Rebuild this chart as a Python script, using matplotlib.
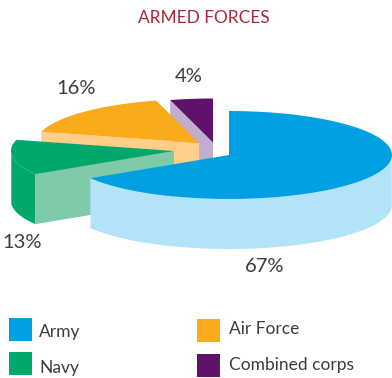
import numpy as np
import matplotlib
matplotlib.use("Agg")
import matplotlib.pyplot as plt
from matplotlib.patches import Polygon, Rectangle

categories = ["Army", "Navy", "Air Force", "Combined corps"]
shares = [67, 13, 16, 4]
share_labels = ["67%", "13%", "16%", "4%"]

top_colors = ["#00A0E3", "#00A86B", "#FBAA19", "#5F116B"]
face_colors = ["#B3E3F9", "#7FCBA9", "#FDCF88", "#C1AECF"]
rim_colors = ["#B3E3F9", "#00A86B", "#FDCF88", "#C1AECF"]
apexes = [(229, 155), (174, 151), (199, 143), (213, 142.5)]
label_pos = [(265, 267), (22, 243), (76, 88), (189, 77)]
legend_pos = [(9, 318), (9, 352), (197, 319), (197, 354)]
legend_text_pos = [(39, 332), (39, 368), (229, 329), (229, 365)]
RX, RY, DEPTH = 163, 44, 50
VIEW_WARP = 3.4
FONT = ["Lato", "DejaVu Sans"]
TEXT = "#3c3c3c"

fig = plt.figure(figsize=(3.92, 3.78), dpi=100)
ax = fig.add_axes([0, 0, 1, 1])
ax.set_xlim(0, 392)
ax.set_ylim(378, 0)
ax.axis("off")


def arc(apex, t0, t1, dy=0.0):
    t = np.radians(np.linspace(t0, t1, 80))
    t = t + np.radians(VIEW_WARP) * np.sin(t)
    return np.column_stack([apex[0] + RX * np.sin(t), apex[1] - RY * np.cos(t) + dy])


edges = np.concatenate([[0], np.cumsum(shares)]) * 3.6
# painter's order: far slices first
for i in [3, 2, 1, 0]:
    t0, t1 = edges[i], edges[i + 1]
    ap = np.array(apexes[i], float)
    top = arc(ap, t0, t1)
    z = 5 - i
    # outer rim: only the part of the curve that faces the viewer
    lo, hi = max(t0, 90), min(t1, 270)
    if hi > lo:
        rim = arc(ap, lo, hi)
        rim_poly = np.vstack([rim, (rim + [0, DEPTH])[::-1]])
        ax.add_patch(Polygon(rim_poly, closed=True, fc=rim_colors[i], ec="none", zorder=z))
    # visible radial face: the slice's clockwise-first edge
    p = top[0]
    face = np.array([ap, p, p + [0, DEPTH], ap + [0, DEPTH]])
    ax.add_patch(Polygon(face, closed=True, fc=face_colors[i], ec="none", zorder=z))
    ax.add_patch(Polygon(np.vstack([ap, top]), closed=True, fc=top_colors[i], ec="none", zorder=z))

for s, (x, y) in zip(share_labels, label_pos):
    ax.text(x, y, s, ha="center", va="center", fontsize=14.5, color=TEXT, family=FONT, zorder=10)

ax.text(204, 18, "ARMED FORCES", ha="center", va="center", fontsize=12.4, color="#A6283C", family=FONT)

for c, name, (x, y), (tx, ty) in zip(top_colors, categories, legend_pos, legend_text_pos):
    ax.add_patch(Rectangle((x, y), 23, 23, fc=c, ec="none"))
    ax.text(tx, ty, name, ha="left", va="center", fontsize=12.5, color=TEXT, family=FONT)

fig.savefig("out.png", dpi=100)
